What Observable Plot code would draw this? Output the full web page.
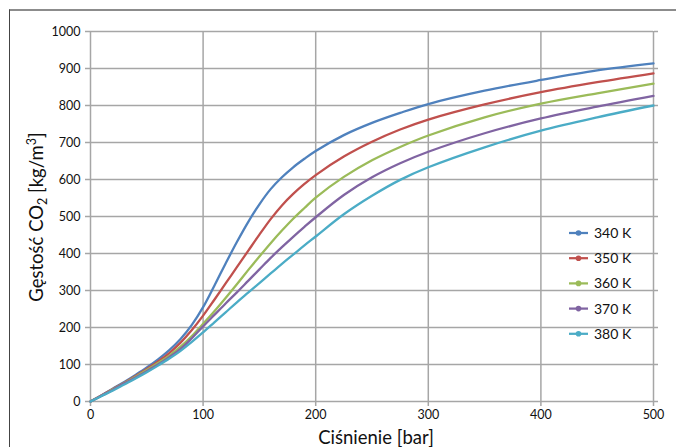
<!DOCTYPE html>
<html><head><meta charset="utf-8">
<script src="https://cdn.jsdelivr.net/npm/d3@7"></script>
<script src="https://cdn.jsdelivr.net/npm/@observablehq/plot@0.6"></script>
<style>
html,body{margin:0;padding:0;background:#fff;}
#chart{position:relative;width:676px;height:447px;overflow:hidden;}
</style></head><body><div id="chart"></div>
<script>
const pressure = [0,10,20,30,40,50,60,70,80,90,100,110,120,130,140,150,160,170,180,190,200,225,250,275,300,350,400,450,500];
const temps = ["340 K","350 K","360 K","370 K","380 K"];
const d340 = [0,17,35,53,72,92,114,139,169,207,255,313,373,431,485,533,574,606,633,656,677,720,753,780,804,840,869,895,914];
const d350 = [0,17,34,51,69,88,108,131,159,193,232,275,319,363,407,451,493,530,561,588,612,662,702,735,762,803,836,863,887];
const d360 = [0,16,33,50,67,85,104,124,148,177,210,244,280,317,355,392,428,462,494,523,551,607,652,688,719,768,805,833,859];
const d370 = [0,16,32,49,65,82,100,120,142,171,203,234,265,295,326,357,388,417,445,472,498,558,606,644,675,725,765,797,826];
const d380 = [0,15,30,46,62,79,97,116,137,161,187,214,241,268,294,320,346,372,397,422,446,506,556,599,633,687,732,768,800];
const colors = ["#4F81BD","#C0504D","#9BBB59","#8064A2","#4BACC6"];
const xTicks = [0,100,200,300,400,500];
const yTicks = [0,100,200,300,400,500,600,700,800,900,1000];
const xTitle = "Ciśnienie [bar]";
const yTitleParts = ["Gęstość CO", "2", " [kg/m", "3", "]"];

const series = [d340,d350,d360,d370,d380];
const data = temps.flatMap((t,i)=>pressure.map((p,j)=>({t, p, d: series[i][j]})));

const font = "Lato, 'Open Sans', sans-serif";
const grid = "#A6A6A6";
const ink = "#111";
const plot = Plot.plot({
  width: 676, height: 447,
  marginLeft: 90, marginRight: 23, marginTop: 31, marginBottom: 46,
  style: {fontFamily: font, fontSize: "12.5px", color: ink, background: "transparent", overflow: "visible"},
  x: {domain:[0,500]},
  y: {domain:[0,1000]},
  color: {domain: temps, range: colors},
  marks: [
    Plot.gridX(xTicks, {stroke: grid, strokeOpacity: 1, strokeWidth: 1.5}),
    Plot.gridY(yTicks, {stroke: grid, strokeOpacity: 1, strokeWidth: 1.5}),
    Plot.axisX(xTicks, {anchor: "bottom", tickSize: 5, tickPadding: 4, stroke: grid, strokeWidth: 1.5, tickFormat: d => String(d), label: null}),
    Plot.axisY(yTicks, {anchor: "left", tickSize: 5, tickPadding: 5, stroke: grid, strokeWidth: 1.5, tickFormat: d => String(d), label: null}),
    Plot.axisY(yTicks, {anchor: "right", tickSize: 4, tickFormat: () => "", stroke: grid, strokeWidth: 1.5, label: null}),
    Plot.line(data, {x: "p", y: "d", z: "t", stroke: "t", strokeWidth: 2.3, curve: "catmull-rom"})
  ]
});
document.getElementById("chart").appendChild(plot);

const svg = d3.select(plot);
// outer frame
svg.append("line").attr("x1", 9).attr("x2", 676).attr("y1", 10).attr("y2", 10).attr("stroke", "#666").attr("stroke-width", 1.5);
svg.append("line").attr("x1", 9.5).attr("x2", 9.5).attr("y1", 9.5).attr("y2", 447).attr("stroke", "#444").attr("stroke-width", 1);

// legend
const lg = svg.append("g").attr("font-family", font).attr("font-size", 14).attr("fill", ink).attr("text-anchor", "start");
temps.forEach((t, i) => {
  const y = 233 + 25.2 * i;
  lg.append("line").attr("x1", 569).attr("x2", 588).attr("y1", y).attr("y2", y).attr("stroke", colors[i]).attr("stroke-width", 2.25);
  lg.append("circle").attr("cx", 578.5).attr("cy", y).attr("r", 2.8).attr("fill", colors[i]);
  lg.append("text").attr("x", 594).attr("y", y).attr("dy", "0.36em").attr("text-anchor", "start").text(t);
});

// axis titles
svg.append("text").attr("x", 376).attr("y", 437).attr("dy", "0.36em").attr("text-anchor", "middle")
  .attr("font-family", font).attr("font-size", 18.5).attr("fill", ink).text(xTitle);
const yt = svg.append("text").attr("transform", "translate(36,217) rotate(-90)").attr("text-anchor", "middle")
  .attr("dy", "0.36em").attr("font-family", font).attr("font-size", 18.5).attr("fill", ink);
yt.append("tspan").text(yTitleParts[0]);
yt.append("tspan").attr("font-size", 12.5).attr("dy", 4).text(yTitleParts[1]);
yt.append("tspan").attr("dy", -4).text(yTitleParts[2]);
yt.append("tspan").attr("font-size", 12.5).attr("dy", -7).text(yTitleParts[3]);
yt.append("tspan").attr("dy", 7).text(yTitleParts[4]);
</script></body></html>
